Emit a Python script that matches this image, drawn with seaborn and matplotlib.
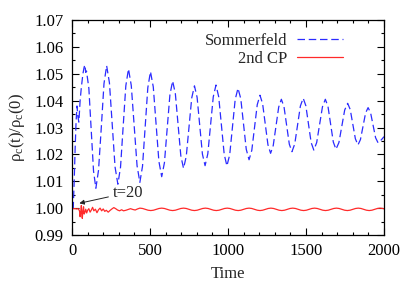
import matplotlib
matplotlib.use("Agg")
import matplotlib.pyplot as plt
import seaborn as sns
import pandas as pd
from matplotlib.ticker import MultipleLocator

# ---- data ----
somm_t = [0, 8, 14, 20, 26, 32, 38, 44, 52, 60, 70, 78, 83, 88, 93,
          108, 123, 138, 153,
          170, 188, 205, 222,
          240, 258, 276, 294,
          311, 328, 345, 362,
          380, 398.5, 417, 435,
          452, 469, 486, 503,
          521, 539, 557, 575,
          592.5, 610, 627.5, 645,
          662.5, 680, 697.5, 715,
          732.5, 750, 767.5, 785,
          802, 819, 836, 853,
          870.5, 888, 905.5, 923,
          940.5, 958, 975.5, 993,
          1011, 1028.5, 1046, 1064,
          1082, 1099.5, 1117, 1135,
          1152.5, 1170, 1187.5, 1205,
          1222, 1239, 1256, 1273,
          1290, 1307.5, 1325, 1342,
          1359, 1376, 1393, 1410,
          1428, 1446, 1464, 1482,
          1499, 1516, 1533, 1550,
          1568.5, 1587, 1605.5, 1624,
          1641, 1658, 1675, 1692,
          1711, 1729.5, 1748, 1767,
          1783.5, 1800, 1816.5, 1833,
          1849, 1865.5, 1882, 1898,
          1914, 1930, 1946, 1962,
          1975, 1990, 2000]
somm_v = [1.000, 1.000, 1.010, 1.022, 1.032, 1.038, 1.034, 1.032, 1.040, 1.045, 1.050, 1.0525, 1.0533, 1.0505, 1.0510,
          1.0446, 1.0292, 1.0138, 1.0074,
          1.0141, 1.0302, 1.0463, 1.0530,
          1.0466, 1.0310, 1.0153, 1.0089,
          1.0152, 1.0304, 1.0455, 1.0518,
          1.0456, 1.0307, 1.0158, 1.0096,
          1.0156, 1.0302, 1.0448, 1.0508,
          1.0451, 1.03125, 1.0174, 1.0117,
          1.0169, 1.0295, 1.0421, 1.0473,
          1.0426, 1.03105, 1.0195, 1.0148,
          1.0193, 1.03015, 1.0410, 1.0455,
          1.0412, 1.03065, 1.0201, 1.0158,
          1.0202, 1.0308, 1.0414, 1.0458,
          1.0414, 1.03075, 1.0201, 1.0157,
          1.0199, 1.03015, 1.0404, 1.0446,
          1.0407, 1.0313, 1.0219, 1.0180,
          1.0215, 1.0300, 1.0385, 1.0420,
          1.0388, 1.0312, 1.0236, 1.0204,
          1.0233, 1.03045, 1.0376, 1.0405,
          1.0377, 1.03075, 1.0238, 1.0210,
          1.0239, 1.03095, 1.0380, 1.0409,
          1.0381, 1.03125, 1.0244, 1.0216,
          1.0244, 1.03105, 1.0377, 1.0405,
          1.0378, 1.0312, 1.0246, 1.0219,
          1.0244, 1.03045, 1.0365, 1.0390,
          1.0367, 1.03125, 1.0258, 1.0235,
          1.0255, 1.03045, 1.0354, 1.0374,
          1.0355, 1.03085, 1.0262, 1.0243,
          1.0249, 1.0259, 1.0266]

cp_t = [0, 10, 20, 30, 40, 48, 52, 56, 60, 63, 66, 70, 74, 78, 83, 88, 94, 100,
        108, 116, 124, 132, 140, 150, 160, 170, 180, 190, 200, 210, 220, 232,
        245, 258, 268, 280, 292, 305, 318, 330, 345, 360, 375, 390, 405, 420,
        435, 452.5, 470, 487.5, 505, 522.5, 540, 557.5,
        575, 592.5, 610, 627.5, 645, 662.5, 680, 697.5,
        715, 732.5, 750, 767.5, 785, 802.5, 820, 837.5,
        855, 872.5, 890, 907.5, 925, 942.5, 960, 977.5,
        995, 1012.5, 1030, 1047.5, 1065, 1082.5, 1100, 1117.5,
        1135, 1152.5, 1170, 1187.5, 1205, 1222.5, 1240, 1257.5,
        1275, 1292.5, 1310, 1327.5, 1345, 1362.5, 1380, 1397.5,
        1415, 1432.5, 1450, 1467.5, 1485, 1502.5, 1520, 1537.5,
        1555, 1572.5, 1590, 1607.5, 1625, 1642.5, 1660, 1677.5,
        1695, 1712.5, 1730, 1747.5, 1765, 1782.5, 1800, 1817.5,
        1835, 1852.5, 1870, 1887.5, 1905, 1922.5, 1940, 1957.5,
        1975, 1990, 2000]
cp_v = [0.9998, 0.9998, 0.9998, 0.9997, 0.9998, 0.9990, 0.9968, 0.9985, 1.0010, 0.9975, 0.9962, 0.9990,
        1.0005, 0.9978, 0.9985, 0.9996, 0.9982, 0.9992,
        0.9998, 0.9985, 0.9993, 1.0003, 0.9990, 0.9996, 0.9983, 0.9994, 1.0000, 0.9990, 0.9997, 0.9988,
        0.9992, 0.9985,
        0.9992, 0.9998, 1.0002, 0.9998, 0.9993, 0.9990, 0.9994, 0.9990, 0.9992, 0.9995, 0.9998, 0.9995,
        0.9993, 0.9997,
        1.0000, 0.99987, 0.99955, 0.99923, 0.99910, 0.99923, 0.99955, 0.99987,
        1.0000, 0.99987, 0.99955, 0.99923, 0.99910, 0.99923, 0.99955, 0.99987,
        1.0000, 0.99987, 0.99955, 0.99923, 0.99910, 0.99923, 0.99955, 0.99987,
        1.0000, 0.99987, 0.99955, 0.99923, 0.99910, 0.99923, 0.99955, 0.99987,
        1.0000, 0.99987, 0.99955, 0.99923, 0.99910, 0.99923, 0.99955, 0.99987,
        1.0000, 0.99987, 0.99955, 0.99923, 0.99910, 0.99923, 0.99955, 0.99987,
        1.0000, 0.99987, 0.99955, 0.99923, 0.99910, 0.99923, 0.99955, 0.99987,
        1.0000, 0.99987, 0.99955, 0.99923, 0.99910, 0.99923, 0.99955, 0.99987,
        1.0000, 0.99987, 0.99955, 0.99923, 0.99910, 0.99923, 0.99955, 0.99987,
        1.0000, 0.99987, 0.99955, 0.99923, 0.99910, 0.99923, 0.99955, 0.99987,
        1.0000, 0.99987, 0.99955, 0.99923, 0.99910, 0.99923, 0.99955, 0.99987,
        1.0000, 0.99990, 0.99975]

series_labels = ["Sommerfeld", "2nd CP"]
annot_text = "t=20"

# ---- style ----
FS = 12
sns.set_theme(style="ticks")
plt.rcParams["font.family"] = ["Liberation Serif", "DejaVu Serif"]
plt.rcParams["mathtext.fontset"] = "custom"
plt.rcParams["mathtext.rm"] = "Liberation Serif"
plt.rcParams["mathtext.it"] = "Liberation Serif"

fig = plt.figure(figsize=(4.15, 2.91), dpi=100)
ax = fig.add_axes([0.1735, 0.1924, 0.9253 - 0.1735, 0.9313 - 0.1924])

df_s = pd.DataFrame({"t": somm_t, "v": somm_v})
df_c = pd.DataFrame({"t": cp_t, "v": cp_v})

sns.lineplot(data=df_s, x="t", y="v", ax=ax, color="#2b2bff", linewidth=0.9,
             label=series_labels[0], estimator=None, sort=False)
sns.lineplot(data=df_c, x="t", y="v", ax=ax, color="#ff2a2a", linewidth=0.9,
             label=series_labels[1], estimator=None, sort=False)
ax.lines[0].set_dashes([6, 3])

ax.set_xlim(0, 2000)
ax.set_ylim(0.99, 1.07)
ax.xaxis.set_major_locator(MultipleLocator(500))
ax.xaxis.set_minor_locator(MultipleLocator(100))
ax.yaxis.set_major_locator(MultipleLocator(0.01))
ax.yaxis.set_minor_locator(MultipleLocator(0.005))
ax.yaxis.set_major_formatter(matplotlib.ticker.FormatStrFormatter("%.2f"))
ax.tick_params(which="both", direction="in", top=True, right=True,
               colors="black", labelsize=FS, width=0.8)
ax.tick_params(which="major", length=5, pad=6)
ax.tick_params(which="minor", length=2.5)
for s in ax.spines.values():
    s.set_visible(True)
    s.set_color("black")
    s.set_linewidth(0.9)

ax.set_xlabel("Time", fontsize=FS, labelpad=5)
ax.set_ylabel(r"$\mathrm{\rho_c(t)/\rho_c(0)}$", fontsize=FS, labelpad=5)

ax.annotate(annot_text, xy=(47, 1.0018), xytext=(263, 1.0058),
            fontsize=FS, ha="left", va="center",
            arrowprops=dict(arrowstyle="-|>", color="#222222", lw=0.7,
                            mutation_scale=7, shrinkA=1, shrinkB=0))

leg = ax.legend(loc="upper right", frameon=False, markerfirst=False,
                fontsize=FS, handlelength=2.75, handletextpad=0.6,
                borderaxespad=0.0, labelspacing=0.1,
                bbox_to_anchor=(0.89, 0.97))

fig.savefig("out.png", dpi=100)
